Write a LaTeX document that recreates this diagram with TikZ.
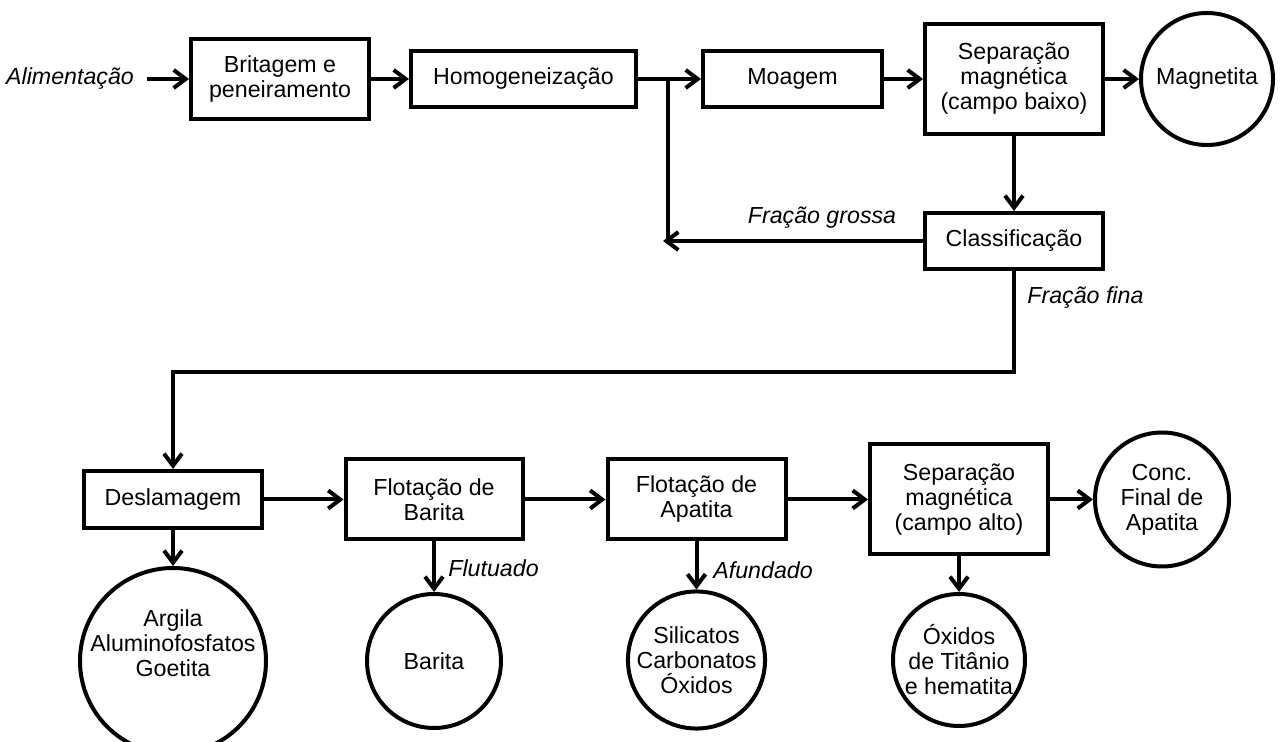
\documentclass[tikz,border=0pt]{standalone}
\usepackage{fontspec}
\setmainfont{Liberation Sans}
\usetikzlibrary{arrows.meta}
\begin{document}
\begin{tikzpicture}[x=0.5pt,y=-0.5pt,
  every node/.style={font=\fontsize{11.6}{12.5}\selectfont, align=center},
  box/.style={draw, line width=2pt, inner sep=0pt},
  circ/.style={draw, circle, line width=2pt, inner sep=0pt},
  lab/.style={font=\fontsize{11.6}{12.5}\selectfont\itshape, inner sep=0pt},
  conn/.style={line width=2pt},
  arr/.style={conn, -{Straight Barb[length=6pt,width=9pt,line width=2pt]}},
]
\clip (0,0) rectangle (1280,742);
% top row
\node[lab, inner xsep=6.5pt] (alim) at (70,79) {Alimentação};
\node[box, minimum width=89pt, minimum height=40pt] (brit) at (280,79) {Britagem e\\peneiramento};
\node[box, minimum width=112.5pt, minimum height=28pt] (homog) at (523.5,79) {Homogeneização};
\node[box, minimum width=89.5pt, minimum height=28pt] (moag) at (792.5,79) {Moagem};
\node[box, minimum width=89pt, minimum height=55pt] (sepb) at (1014,79) {Separação\\magnética\\(campo baixo)};
\node[circ, minimum size=66pt] (magn) at (1207,79) {Magnetita};
\node[box, minimum width=89pt, minimum height=28pt] (class) at (1014,241) {Classificação};
\coordinate (jt) at (668,79);
\coordinate (jb) at (663,241);
\coordinate (c1) at (0,372);
% bottom row
\node[box, minimum width=89pt, minimum height=28.5pt] (desl) at (173,499.5) {Deslamagem};
\node[box, minimum width=88.5pt, minimum height=40pt] (flotb) at (434,499.5) {Flotação de\\Barita};
\node[box, minimum width=89pt, minimum height=40pt] (flota) at (696.5,499.5) {Flotação de\\Apatita};
\node[box, minimum width=89pt, minimum height=55pt] (sepa) at (959,499.5) {Separação\\magnética\\(campo alto)};
\node[circ, minimum size=67pt] (conc) at (1162,499.5) {Conc.\\Final de\\Apatita};
\node[circ, minimum size=93pt, label={[yshift=9pt]center:Argila\\Aluminofosfatos\\Goetita}] (argila) at (173,661) {};
\node[circ, minimum size=67pt] (barita) at (434,661) {Barita};
\node[circ, minimum size=66pt] (silic) at (696.5,660) {Silicatos\\Carbonatos\\Óxidos};
\node[circ, minimum size=66pt] (oxid) at (959,660) {Óxidos\\de Titânio\\e hematita};
% labels
\node[lab] (fg) at (822,218) {Fração grossa};
\node[lab, anchor=west] (ff) at (1027,298) {Fração fina};
\node[lab, anchor=west] (flu) at (448,568) {Flutuado};
\node[lab, anchor=west] (afu) at (713,570) {Afundado};
% connectors
\draw[arr] (alim.east) -- (alim.east -| brit.west);
\draw[arr] (brit.east) -- (homog.west);
\draw[arr] (homog.east) -- (moag.west);
\draw[arr] (moag.east) -- (sepb.west);
\draw[arr] (sepb.east) -- (magn.west);
\draw[arr] (sepb.south) -- (class.north);
\draw[arr] (class.west) -- (jb);
\draw[conn] (jt) -- (jt |- class.west);
\draw[arr] (class.south) -- (class.south |- c1) -| (desl.north);
\draw[arr] (desl.east) -- (flotb.west);
\draw[arr] (flotb.east) -- (flota.west);
\draw[arr] (flota.east) -- (sepa.west);
\draw[arr] (sepa.east) -- (conc.west);
\draw[arr] (desl.south) -- (argila.north);
\draw[arr] (flotb.south) -- (barita.north);
\draw[arr] (flota.south) -- (silic.north);
\draw[arr] (sepa.south) -- (oxid.north);
\end{tikzpicture}
\end{document}
